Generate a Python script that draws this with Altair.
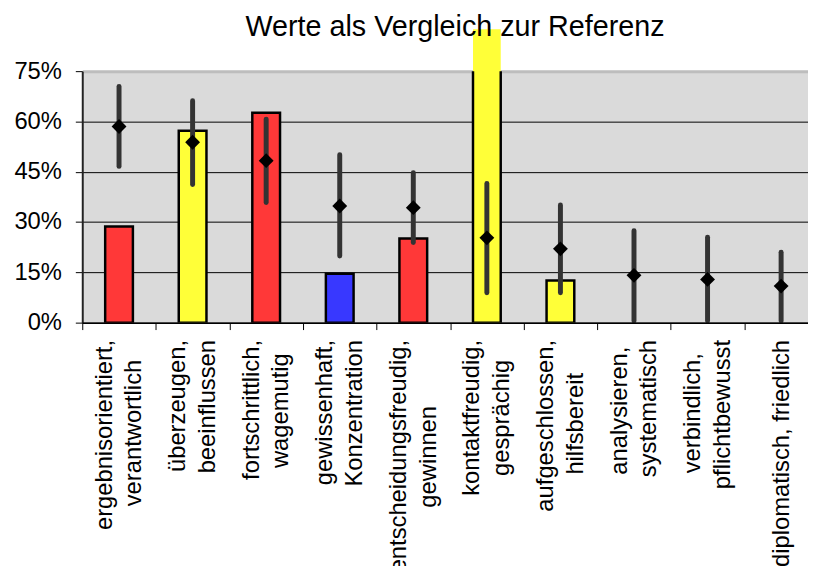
import altair as alt
import pandas as pd

# ---------------- data ----------------
kategorien = [
    ["ergebnisorientiert,", "verantwortlich"],
    ["überzeugen,", "beeinflussen"],
    ["fortschrittlich,", "wagemutig"],
    ["gewissenhaft,", "Konzentration"],
    ["entscheidungsfreudig,", "gewinnen"],
    ["kontaktfreudig,", "gesprächig"],
    ["aufgeschlossen,", "hilfsbereit"],
    ["analysieren,", "systematisch"],
    ["verbindlich,", "pflichtbewusst"],
    ["diplomatisch, friedlich"],
]
werte = [0.287, 0.572, 0.626, 0.146, 0.251, 0.875, 0.126, None, None, None]
farben = ["rot", "gelb", "rot", "blau", "rot", "gelb", "gelb", None, None, None]
referenz = [0.585, 0.538, 0.483, 0.348, 0.343, 0.253, 0.220, 0.141, 0.129, 0.109]
ref_min = [0.466, 0.412, 0.358, 0.199, 0.239, 0.089, 0.089, 0.005, 0.005, 0.005]
ref_max = [0.704, 0.662, 0.607, 0.501, 0.447, 0.415, 0.351, 0.274, 0.255, 0.210]
y_ticks = [0, 0.15, 0.30, 0.45, 0.60, 0.75]

farb_namen = ["rot", "gelb", "blau"]
farb_werte = ["#ff3838", "#ffff38", "#3838ff"]

# Arial / Liberation Sans advance widths (1/1000 em), used to centre the label lines
AW = {
    "a": 556, "b": 556, "c": 500, "d": 556, "e": 556, "f": 278, "g": 556, "h": 556,
    "i": 222, "j": 222, "k": 500, "l": 222, "m": 833, "n": 556, "o": 556, "p": 556,
    "q": 556, "r": 333, "s": 500, "t": 278, "u": 556, "v": 500, "w": 722, "x": 500,
    "y": 500, "z": 500, "ä": 556, "ü": 556, "K": 667, ",": 278, " ": 278,
}
ZW = "\u200b"


def breite(s):
    return sum(AW.get(c, 556) for c in s)


def label(lines):
    # half-height line steps: two-line labels use slots 0 and 2, one-line labels slot 1
    if len(lines) == 1:
        return ZW + "|" + lines[0]
    wmax = max(breite(l) for l in lines)
    out = []
    for l in lines:
        pad = int(round((wmax - breite(l)) / 2 / 278))
        out.append(l + ("\u00a0" * pad + ZW if pad > 0 else ""))
    return out[0] + "|" + ZW + "|" + out[1]


labels = [label(k) for k in kategorien]

df = pd.DataFrame({
    "kat": labels,
    "wert": werte,
    "farbe": farben,
    "ref": referenz,
    "lo": ref_min,
    "hi": ref_max,
})

x_enc = alt.X(
    "kat:N",
    sort=labels,
    scale=alt.Scale(range=[0, 743], paddingInner=0, paddingOuter=0),
    axis=alt.Axis(
        title=None,
        labelAngle=270,
        labelAlign="right",
        labelBaseline="middle",
        labelExpr="split(datum.label, '|')",
        labelOffset=-15,
        labelFont="Liberation Sans",
        labelFontSize=24,
        labelLineHeight=15,
        labelColor="black",
        labelPadding=10,
        labelLimit=600,
        labelOverlap=False,
        tickBand="extent",
        tickSize=7,
        tickColor="black",
        domainColor="black",
        domainWidth=1.5,
        grid=False,
        zindex=1,
    ),
)

y_scale = alt.Scale(domain=[0, 0.75], nice=False, zero=True)
y_axis = alt.Axis(
    title=None,
    values=y_ticks,
    format=".0%",
    labelFont="Liberation Sans",
    labelFontSize=24,
    labelColor="black",
    labelPadding=14,
    tickSize=7,
    tickColor="black",
    domainColor="#222222",
    domainWidth=2,
    grid=True,
    gridColor={"condition": {"test": "datum.value >= 0.74", "value": "#bdbdbd"}, "value": "black"},
    gridWidth={"condition": {"test": "datum.value >= 0.74", "value": 3}, "value": 1},
)

base = alt.Chart(df)

balken_fill = base.transform_filter("isValid(datum.wert)").mark_bar(
    size=28, clip=False, strokeWidth=0
).encode(
    x=x_enc,
    y=alt.Y("wert:Q", scale=y_scale, axis=y_axis),
    color=alt.Color("farbe:N", scale=alt.Scale(domain=farb_namen, range=farb_werte), legend=None),
)

balken_rand = base.transform_filter("isValid(datum.wert)").mark_bar(
    size=28, clip=True, fillOpacity=0, stroke="black", strokeWidth=2.5
).encode(
    x=x_enc,
    y=alt.Y("wert:Q", scale=y_scale),
)

fehler = base.mark_rule(color="#333333", strokeWidth=5, strokeCap="round").encode(
    x=x_enc,
    y=alt.Y("lo:Q", scale=y_scale),
    y2="hi:Q",
)

punkte = base.mark_point(shape="diamond", filled=True, size=225, color="black", opacity=1).encode(
    x=x_enc,
    y=alt.Y("ref:Q", scale=y_scale),
)

chart = alt.layer(balken_fill, balken_rand, fehler, punkte).properties(
    width=733,
    height=254,
    background="white",
    padding={"left": 75, "top": 61, "right": 0, "bottom": 243},
    autosize=alt.AutoSizeParams(type="none"),
    title=alt.Title(
        "Werte als Vergleich zur Referenz",
        font="Liberation Sans",
        fontSize=29,
        fontWeight="normal",
        color="black",
        anchor="middle",
        frame="group",
        offset=14,
        dx=10,
        dy=27,
    ),
).configure_view(fill="#dadada", stroke="transparent")

chart.save("out.html", embed_options={"renderer": "svg", "actions": False})
